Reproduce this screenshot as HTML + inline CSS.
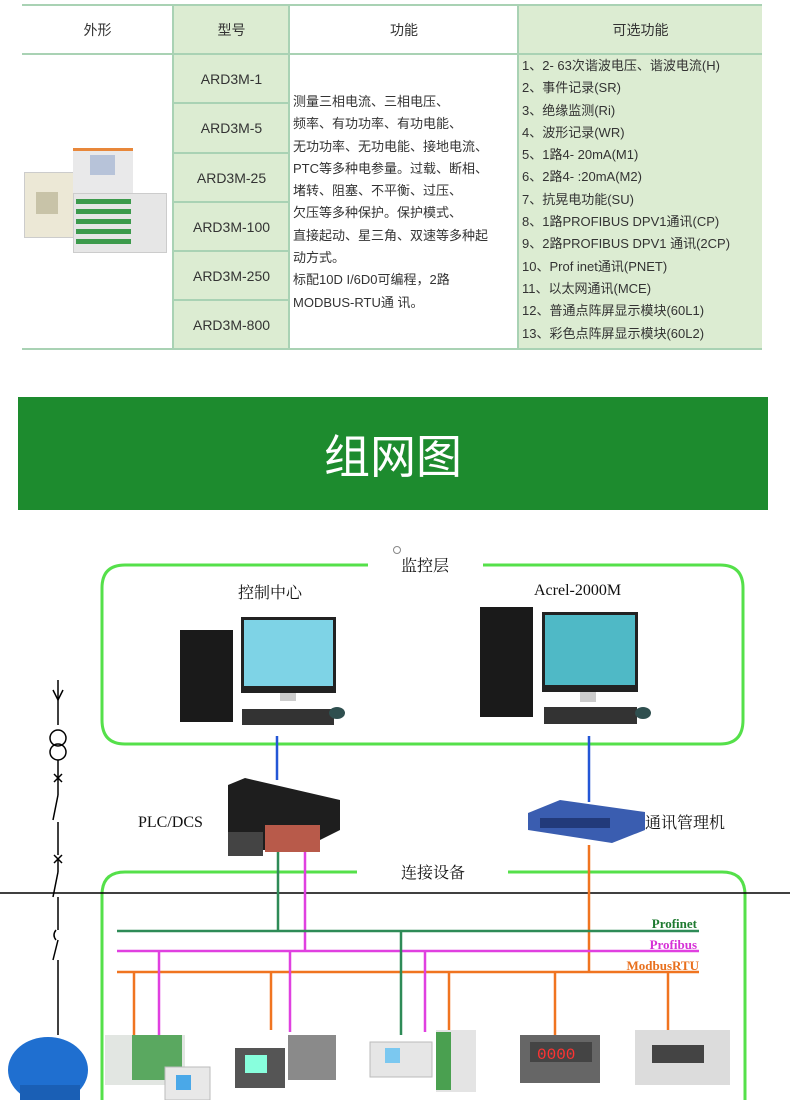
<!DOCTYPE html>
<html><head><meta charset="utf-8"><style>
body{margin:0;width:790px;height:1100px;background:#fff;position:relative;overflow:hidden;font-family:"Liberation Sans","Noto Sans CJK SC",sans-serif;}
.c{position:absolute;box-sizing:border-box;display:flex;align-items:center;justify-content:center;font-size:14px;color:#333;}
.g{background:#dcecd2;}
.hl{position:absolute;height:2px;background:#a9d2b4;}
.vl{position:absolute;width:2px;background:#a9d2b4;}
.txt{position:absolute;font-size:13px;color:#333;line-height:22.3px;}
</style></head><body>
<!-- table -->
<div class="c" style="left:22px;top:6px;width:151px;height:48px;">外形</div>
<div class="c g" style="left:174px;top:6px;width:115px;height:48px;">型号</div>
<div class="c" style="left:290px;top:6px;width:228px;height:48px;">功能</div>
<div class="c g" style="left:519px;top:6px;width:243px;height:48px;">可选功能</div>
<div class="g" style="position:absolute;left:174px;top:54px;width:115px;height:295px;"></div>
<div class="g" style="position:absolute;left:519px;top:54px;width:243px;height:295px;"></div>
<div class="c" style="left:174px;top:54px;width:115px;height:49px;">ARD3M-1</div>
<div class="c" style="left:174px;top:103px;width:115px;height:50px;">ARD3M-5</div>
<div class="c" style="left:174px;top:153px;width:115px;height:49px;">ARD3M-25</div>
<div class="c" style="left:174px;top:202px;width:115px;height:49px;">ARD3M-100</div>
<div class="c" style="left:174px;top:251px;width:115px;height:49px;">ARD3M-250</div>
<div class="c" style="left:174px;top:300px;width:115px;height:49px;">ARD3M-800</div>
<div class="hl" style="left:22px;top:4px;width:740px;"></div>
<div class="hl" style="left:22px;top:53px;width:740px;"></div>
<div class="hl" style="left:22px;top:348px;width:740px;"></div>
<div class="hl" style="left:174px;top:102px;width:115px;"></div>
<div class="hl" style="left:174px;top:152px;width:115px;"></div>
<div class="hl" style="left:174px;top:201px;width:115px;"></div>
<div class="hl" style="left:174px;top:250px;width:115px;"></div>
<div class="hl" style="left:174px;top:299px;width:115px;"></div>
<div class="vl" style="left:172px;top:4px;height:346px;"></div>
<div class="vl" style="left:288px;top:4px;height:346px;"></div>
<div class="vl" style="left:517px;top:4px;height:346px;"></div>
<div class="txt" style="left:293px;top:91px;width:225px;">测量三相电流、三相电压、<br>频率、有功功率、有功电能、<br>无功功率、无功电能、接地电流、<br>PTC等多种电参量。过载、断相、<br>堵转、阻塞、不平衡、过压、<br>欠压等多种保护。保护模式、<br>直接起动、星三角、双速等多种起<br>动方式。<br>标配10D I/6D0可编程，2路<br>MODBUS-RTU通 讯。</div>
<div class="txt" style="left:522px;top:55px;width:240px;line-height:22.3px;">1、2- 63次谐波电压、谐波电流(H)<br>2、事件记录(SR)<br>3、绝缘监测(Ri)<br>4、波形记录(WR)<br>5、1路4- 20mA(M1)<br>6、2路4- :20mA(M2)<br>7、抗晃电功能(SU)<br>8、1路PROFIBUS DPV1通讯(CP)<br>9、2路PROFIBUS DPV1 通讯(2CP)<br>10、Prof inet通讯(PNET)<br>11、以太网通讯(MCE)<br>12、普通点阵屏显示模块(60L1)<br>13、彩色点阵屏显示模块(60L2)</div>
<!-- product image -->
<div style="position:absolute;left:24px;top:172px;width:48px;height:64px;background:#ece8d6;border:1px solid #ccc;"></div>
<div style="position:absolute;left:36px;top:192px;width:22px;height:22px;background:#c8c3a8;"></div>
<div style="position:absolute;left:73px;top:148px;width:60px;height:45px;background:#e9e9ea;border-top:3px solid #e8873a;"></div>
<div style="position:absolute;left:90px;top:155px;width:25px;height:20px;background:#b7c3d9;"></div>
<div style="position:absolute;left:73px;top:193px;width:92px;height:58px;background:#e6e6e6;border:1px solid #ccc;"></div>
<div style="position:absolute;left:76px;top:198px;width:55px;height:46px;background:repeating-linear-gradient(0deg,#3c9a4c 0 5px,#e6e6e6 5px 10px);"></div>
<!-- banner -->
<div class="c" style="left:18px;top:397px;width:750px;height:113px;background:#1d8b2e;color:#fff;font-size:46px;">组网图</div>
<!-- diagram -->
<svg style="position:absolute;left:0;top:0" width="790" height="1100">
<g fill="none" stroke="#55e04a" stroke-width="3">
<path d="M368 565 H125 Q102 565 102 588 V720 Q102 744 125 744 H720 Q743 744 743 720 V588 Q743 565 720 565 H483"/>
<path d="M357 872 H125 Q102 872 102 895 V1100 M745 1100 V895 Q745 872 722 872 H508"/>
</g>
<circle cx="397" cy="550" r="3.5" fill="none" stroke="#888"/>
<line x1="0" y1="893" x2="790" y2="893" stroke="#000" stroke-width="1.5"/>
<!-- left single line -->
<g stroke="#000" stroke-width="1.5" fill="none">
<line x1="58" y1="680" x2="58" y2="725"/><path d="M53 690 L58 700 L63 690"/>
<circle cx="58" cy="738" r="8"/><circle cx="58" cy="752" r="8"/>
<line x1="58" y1="760" x2="58" y2="795"/><path d="M54 774 L62 782 M62 774 L54 782"/>
<path d="M58 795 L53 820"/><line x1="58" y1="822" x2="58" y2="855"/>
<path d="M54 855 L62 863 M62 855 L54 863"/><line x1="58" y1="859" x2="58" y2="872"/>
<path d="M58 872 L53 897"/><line x1="58" y1="897" x2="58" y2="930"/>
<path d="M56 930 Q52 935 56 940"/><path d="M58 940 L53 960"/><line x1="58" y1="960" x2="58" y2="1035"/>
</g>
<!-- connection lines -->
<g stroke-width="2.5">
<line x1="277" y1="736" x2="277" y2="780" stroke="#2356d6"/>
<line x1="589" y1="736" x2="589" y2="802" stroke="#2356d6"/>
<line x1="278" y1="845" x2="278" y2="931" stroke="#2e8b57"/>
<line x1="305" y1="850" x2="305" y2="951" stroke="#e040e0"/>
<line x1="589" y1="845" x2="589" y2="972" stroke="#f07420"/>
<line x1="117" y1="931" x2="699" y2="931" stroke="#2e8b57"/>
<line x1="117" y1="951" x2="699" y2="951" stroke="#e040e0"/>
<line x1="117" y1="972" x2="699" y2="972" stroke="#f07420"/>
<line x1="134" y1="972" x2="134" y2="1035" stroke="#f07420"/>
<line x1="159" y1="951" x2="159" y2="1035" stroke="#e040e0"/>
<line x1="271" y1="972" x2="271" y2="1030" stroke="#f07420"/>
<line x1="290" y1="951" x2="290" y2="1032" stroke="#e040e0"/>
<line x1="401" y1="931" x2="401" y2="1035" stroke="#2e8b57"/>
<line x1="425" y1="951" x2="425" y2="1032" stroke="#e040e0"/>
<line x1="449" y1="972" x2="449" y2="1035" stroke="#f07420"/>
<line x1="555" y1="972" x2="555" y2="1035" stroke="#f07420"/>
<line x1="668" y1="972" x2="668" y2="1035" stroke="#f07420"/>
</g>
<g font-family="Liberation Serif,serif" font-weight="bold" font-size="13" text-anchor="end">
<text x="697" y="928" fill="#1e7a30">Profinet</text>
<text x="697" y="949" fill="#d630d6">Profibus</text>
<text x="699" y="970" fill="#e8701e">ModbusRTU</text>
</g>
<g font-family="Liberation Serif,Noto Serif CJK SC,serif" font-size="16" fill="#111">
<text x="401" y="571">监控层</text>
<text x="238" y="598">控制中心</text>
<text x="534" y="595">Acrel-2000M</text>
<text x="138" y="827">PLC/DCS</text>
<text x="645" y="828">通讯管理机</text>
<text x="401" y="878">连接设备</text>
</g>
<!-- computers -->
<g>
<rect x="180" y="630" width="53" height="92" fill="#1a1a1a"/>
<rect x="241" y="617" width="95" height="76" fill="#222"/><rect x="244" y="620" width="89" height="66" fill="#7ed3e6"/>
<rect x="280" y="693" width="16" height="8" fill="#ccc"/>
<rect x="242" y="709" width="92" height="16" fill="#333"/><ellipse cx="337" cy="713" rx="8" ry="6" fill="#2f4f4f"/>
<rect x="480" y="607" width="53" height="110" fill="#1a1a1a"/>
<rect x="542" y="612" width="96" height="80" fill="#222"/><rect x="545" y="615" width="90" height="70" fill="#4fb9c6"/>
<rect x="580" y="692" width="16" height="10" fill="#ccc"/>
<rect x="544" y="707" width="93" height="17" fill="#333"/><ellipse cx="643" cy="713" rx="8" ry="6" fill="#2f4f4f"/>
<!-- PLC -->
<polygon points="228,785 245,778 340,800 340,830 300,850 228,850" fill="#1e1e1e"/>
<rect x="265" y="825" width="55" height="27" fill="#b85a4a"/>
<rect x="228" y="832" width="35" height="24" fill="#444"/>
<!-- switch -->
<polygon points="528,813 560,800 645,812 645,830 612,843 528,830" fill="#3a5db0"/>
<rect x="540" y="818" width="70" height="10" fill="#223a7a"/>
<!-- motor -->
<ellipse cx="48" cy="1070" rx="40" ry="33" fill="#1f6fd0"/>
<rect x="20" y="1085" width="60" height="15" fill="#1a5fb5"/>
<!-- devices -->
<rect x="105" y="1035" width="80" height="50" fill="#e2e6e2"/>
<rect x="132" y="1035" width="50" height="45" fill="#5aa860"/>
<rect x="165" y="1067" width="45" height="33" fill="#e8e8e8" stroke="#bbb"/>
<rect x="176" y="1075" width="15" height="15" fill="#4aa8e8"/>
<rect x="235" y="1048" width="50" height="40" fill="#555"/><rect x="245" y="1055" width="22" height="18" fill="#8fd"/>
<rect x="288" y="1035" width="48" height="45" fill="#8a8a8a"/>
<rect x="370" y="1042" width="62" height="35" fill="#e6e6e6" stroke="#bbb"/><rect x="385" y="1048" width="15" height="15" fill="#7bc8f0"/>
<rect x="436" y="1030" width="40" height="62" fill="#e4e4e4"/><rect x="436" y="1032" width="15" height="58" fill="#4aa050"/>
<rect x="520" y="1035" width="80" height="48" fill="#666"/><rect x="530" y="1042" width="62" height="20" fill="#444"/>
<text x="537" y="1059" fill="#f33" font-size="16" font-family="Liberation Mono,monospace">0000</text>
<rect x="635" y="1030" width="95" height="55" fill="#dcdcdc"/><rect x="652" y="1045" width="52" height="18" fill="#444"/>
</g>
</svg>
</body></html>
